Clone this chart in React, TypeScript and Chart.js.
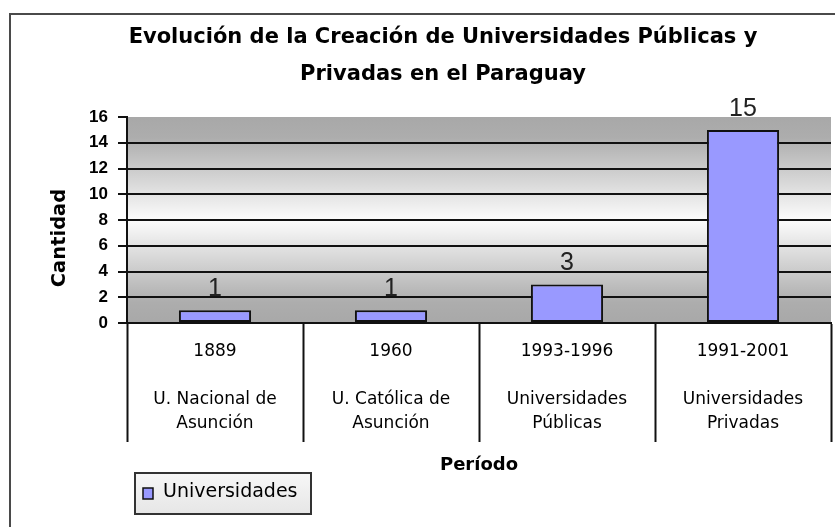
import React, { useEffect, useRef } from "react";
import { Chart, registerables } from "chart.js";

Chart.register(...registerables);

// ---- data ----
const TITLE_LINES = [
  "Evolución de la Creación de Universidades Públicas y",
  "Privadas en el Paraguay",
];
const PERIODS = ["1889", "1960", "1993-1996", "1991-2001"];
const INSTITUTIONS = [
  ["U. Nacional de", "Asunción"],
  ["U. Católica de", "Asunción"],
  ["Universidades", "Públicas"],
  ["Universidades", "Privadas"],
];
const UNIVERSIDADES = [1, 1, 3, 15];
const SERIES_LABEL = "Universidades";
const Y_TITLE = "Cantidad";
const X_TITLE = "Período";
const Y_MIN = 0;
const Y_MAX = 16;
const Y_STEP = 2;

const BAR_COLOR = "#9999FF";
const LINE = "#111111";

const frameAndBackground = {
  id: "frameAndBackground",
  beforeDraw(chart: any) {
    const { ctx, chartArea, width, height } = chart;
    ctx.save();
    ctx.fillStyle = "#ffffff";
    ctx.fillRect(0, 0, width, height);
    // outer frame (cut off on right/bottom)
    ctx.strokeStyle = "#4a4a4a";
    ctx.lineWidth = 2;
    ctx.beginPath();
    ctx.moveTo(10, height + 2);
    ctx.lineTo(10, 14);
    ctx.lineTo(width + 2, 14);
    ctx.stroke();
    // plot gradient
    const g = ctx.createLinearGradient(0, chartArea.top, 0, chartArea.bottom);
    g.addColorStop(0, "#a8a8a8");
    g.addColorStop(0.1, "#adadad");
    g.addColorStop(0.5, "#fcfcfc");
    g.addColorStop(0.9, "#adadad");
    g.addColorStop(1, "#a8a8a8");
    ctx.fillStyle = g;
    ctx.fillRect(chartArea.left, chartArea.top, chartArea.right - chartArea.left, chartArea.bottom - chartArea.top);
    ctx.restore();
  },
};

const valueLabels = {
  id: "valueLabels",
  afterDatasetsDraw(chart: any) {
    const { ctx } = chart;
    const ds = chart.data.datasets[0];
    const meta = chart.getDatasetMeta(0);
    ctx.save();
    ctx.fillStyle = "#222";
    ctx.font = "25px 'Liberation Sans', Arial, sans-serif";
    ctx.textAlign = "center";
    ctx.textBaseline = "alphabetic";
    meta.data.forEach((el: any, i: number) => {
      ctx.fillText(String(ds.data[i]), el.x, el.y - 14);
    });
    ctx.restore();
  },
};

const decorations = {
  id: "decorations",
  afterDraw(chart: any) {
    const { ctx, chartArea } = chart;
    ctx.save();
    // title
    ctx.fillStyle = "#000";
    ctx.font = "bold 21px 'DejaVu Sans', sans-serif";
    ctx.textAlign = "center";
    ctx.textBaseline = "middle";
    ctx.fillText(TITLE_LINES[0], 443, 38);
    ctx.fillText(TITLE_LINES[1], 443, 75);

    // y axis title
    ctx.save();
    ctx.translate(60, (chartArea.top + chartArea.bottom) / 2 + 18);
    ctx.rotate(-Math.PI / 2);
    ctx.font = "bold 19.5px 'DejaVu Sans', sans-serif";
    ctx.fillText(Y_TITLE, 0, 0);
    ctx.restore();

    // legend
    const ds = chart.data.datasets[0];
    const bx = 135, by = 473, bw = 176, bh = 41;
    const lg = ctx.createLinearGradient(0, by, 0, by + bh);
    lg.addColorStop(0, "#f7f7f7");
    lg.addColorStop(1, "#e6e6e6");
    ctx.fillStyle = lg;
    ctx.fillRect(bx, by, bw, bh);
    ctx.strokeStyle = "#333";
    ctx.lineWidth = 2;
    ctx.strokeRect(bx, by, bw, bh);
    ctx.fillStyle = ds.backgroundColor;
    ctx.fillRect(143, 488, 10, 11);
    ctx.lineWidth = 1.5;
    ctx.strokeStyle = "#111";
    ctx.strokeRect(143, 488, 10, 11);
    ctx.fillStyle = "#000";
    ctx.font = "19px 'DejaVu Sans', sans-serif";
    ctx.textAlign = "left";
    ctx.textBaseline = "middle";
    ctx.fillText(ds.label, 163, 492);
    ctx.restore();
  },
};

export default function App() {
  const ref = useRef<HTMLCanvasElement | null>(null);

  useEffect(() => {
    if (!ref.current) return;
    const labels = PERIODS.map((p, i) => [p, "", ...INSTITUTIONS[i]]);
    const chart = new Chart(ref.current, {
      type: "bar",
      data: {
        labels,
        datasets: [
          {
            label: SERIES_LABEL,
            data: UNIVERSIDADES,
            backgroundColor: BAR_COLOR,
            borderColor: LINE,
            borderWidth: 2,
            borderSkipped: false,
            barPercentage: 0.41,
            categoryPercentage: 1,
          },
        ],
      },
      options: {
        responsive: false,
        animation: false,
        devicePixelRatio: 1,
        layout: { padding: { left: 10, right: 4, top: 117, bottom: 51 } },
        plugins: {
          legend: { display: false },
          title: { display: false },
          tooltip: { enabled: false },
        },
        scales: {
          x: {
            offset: true,
            grid: {
              offset: true,
              drawOnChartArea: false,
              drawTicks: true,
              tickLength: 119,
              tickColor: LINE,
              tickWidth: 2,
            },
            border: { display: true, color: LINE, width: 2 },
            ticks: {
              autoSkip: false,
              maxRotation: 0,
              minRotation: 0,
              padding: -102,
              color: "#000",
              font: { family: "'DejaVu Sans', sans-serif", size: 17, lineHeight: 1.4 },
            },
            title: {
              display: true,
              text: X_TITLE,
              color: "#000",
              font: { family: "'DejaVu Sans', sans-serif", weight: "bold", size: 18 },
              padding: 0,
            },
            afterFit: (s: any) => {
              s.height = 153;
            },
          },
          y: {
            min: Y_MIN,
            max: Y_MAX,
            ticks: {
              stepSize: Y_STEP,
              padding: 10,
              color: "#000",
              font: { family: "'Liberation Sans', Arial, sans-serif", weight: "bold", size: 17 },
            },
            grid: {
              color: (c: any) => (c.tick && c.tick.value === Y_MAX ? "rgba(0,0,0,0)" : LINE),
              lineWidth: 2,
              tickLength: 9,
              tickColor: LINE,
              tickWidth: 2,
            },
            border: { display: true, color: LINE, width: 2 },
            afterFit: (s: any) => {
              s.width = 117;
            },
          },
        },
      },
      plugins: [frameAndBackground, valueLabels, decorations],
    } as any);
    return () => chart.destroy();
  }, []);

  return (
    <div style={{ position: "absolute", left: 0, top: 0, width: 835, height: 527 }}>
      <canvas ref={ref} width={835} height={527} style={{ display: "block" }} />
    </div>
  );
}
